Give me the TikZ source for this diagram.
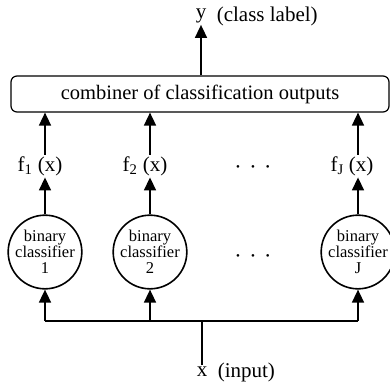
\documentclass[tikz,border=0pt]{standalone}
\usepackage{fontspec}
\setmainfont{Liberation Serif}
\usetikzlibrary{arrows.meta}
\newcommand{\threedots}{\textbullet\hspace{11pt}\textbullet\hspace{11pt}\textbullet}
\begin{document}
\begin{tikzpicture}[x=1pt, y=-1pt, line width=1.6pt,
  tip/.style={-{Triangle[width=12pt,length=13pt]}},
  clf/.style={draw, circle, minimum size=68pt, inner sep=0pt, align=center,
    font=\fontsize{16.5}{16}\selectfont},
  lbl/.style={inner sep=1pt, font=\fontsize{21}{22}\selectfont},
  dots/.style={inner sep=0pt, font=\fontsize{11}{11}\selectfont}]
\useasboundingbox (0,0) rectangle (390,388);
\node[draw, rounded corners=6pt, line width=1.2pt, minimum width=378pt, minimum height=36pt,
  font=\fontsize{20.5}{22}\selectfont] (comb) at (200,94) {combiner of classification outputs};
\node[lbl] (y) at (201,16) {y};
\node[lbl, anchor=west] (cls) at (215,16) {(class label)};
\node[lbl] (f1) at (40,166) {f\textsubscript{1} (x)};
\node[lbl] (f2) at (145,166) {f\textsubscript{2} (x)};
\node[lbl] (fJ) at (352,166) {f\textsubscript{J} (x)};
\node[dots] (fdots) at (253,168) {\threedots};
\node[clf] (c1) at (45,252) {binary\\classifier\\1};
\node[clf] (c2) at (150,252) {binary\\classifier\\2};
\node[clf] (cJ) at (358,252) {binary\\classifier\\J};
\node[dots] (cdots) at (253,257) {\threedots};
\node[lbl] (x) at (202,372) {x};
\node[lbl, anchor=west] (inp) at (216,372) {(input)};
\coordinate (bus) at (202,321);
\draw[tip] (comb.north -| y) -- (y.south);
\draw[tip] (c1.north |- f1.north) -- (c1.north |- comb.south);
\draw[tip] (c2.north |- f2.north) -- (c2.north |- comb.south);
\draw[tip] (cJ.north |- fJ.north) -- (cJ.north |- comb.south);
\draw[tip] (c1.north) -- (c1.north |- f1.south);
\draw[tip] (c2.north) -- (c2.north |- f2.south);
\draw[tip] (cJ.north) -- (cJ.north |- fJ.south);
\draw (x.north) -- (bus);
\draw (c1.south |- bus) -- (cJ.south |- bus);
\draw[tip] (c1.south |- bus) -- (c1.south);
\draw[tip] (c2.south |- bus) -- (c2.south);
\draw[tip] (cJ.south |- bus) -- (cJ.south);
\end{tikzpicture}
\end{document}
